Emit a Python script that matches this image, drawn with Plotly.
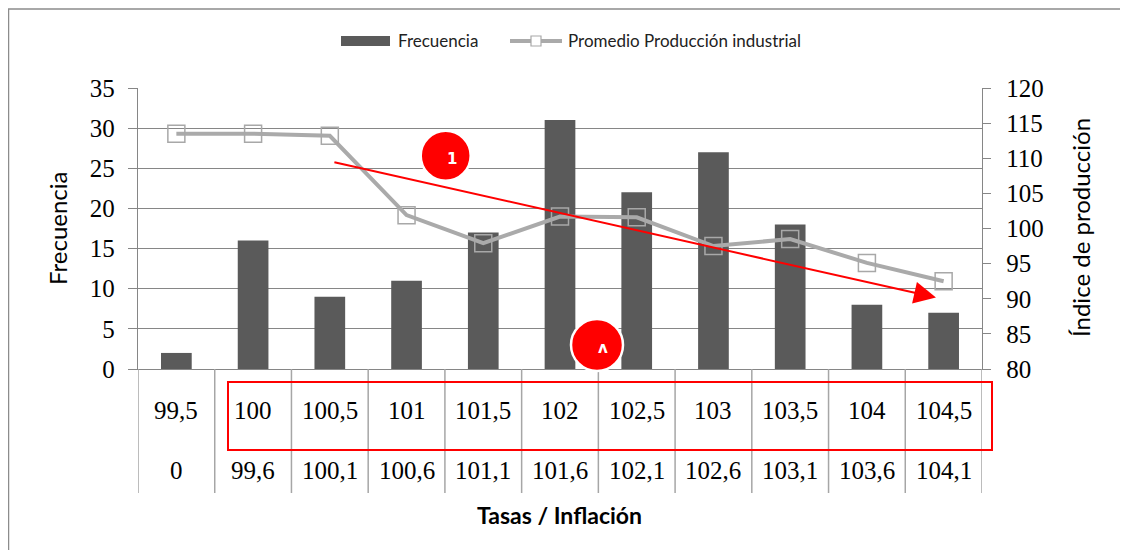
import plotly.graph_objects as go

# class marks (upper row) and lower limits (lower row) of the table under the chart
categories = ["99,5", "100", "100,5", "101", "101,5", "102", "102,5", "103", "103,5", "104", "104,5"]
lower_limits = ["0", "99,6", "100,1", "100,6", "101,1", "101,6", "102,1", "102,6", "103,1", "103,6", "104,1"]
frequency = [2, 16, 9, 11, 17, 31, 22, 27, 18, 8, 7]
production = [113.5, 113.5, 113.2, 101.9, 97.9, 101.7, 101.6, 97.5, 98.5, 95.1, 92.5]

# the page body has an 8px margin, so the figure is a bit smaller than the window
OFF = 8
W, H = 1128 - OFF, 558 - 2 * OFF
# plot area in screen pixels
X0, X1, Y0, Y1 = 138, 982, 88, 369
L, R, T, B = X0 - OFF, W - (X1 - OFF), Y0 - OFF, H - (Y1 - OFF)

NUM_FONT = "Liberation Serif"
TXT_FONT = "Lato, Open Sans, sans-serif"
GRID = "#868686"
TABLE_LINE = "#a6a6a6"
BAR = "#5a5a5a"
LINE = "#aaaaaa"
RED = "#ff0000"


def px(x):
    # screen x -> paper x
    return (x - X0) / (X1 - X0)


def py(y):
    # screen y -> paper y
    return (Y1 - y) / (Y1 - Y0)


def label(x, y, text, xref="paper", **kw):
    kw.setdefault("xanchor", "center")
    fig.add_annotation(x=x, y=y, xref=xref, yref="paper", text=text, showarrow=False,
                       yanchor="middle", **kw)


fig = go.Figure()
fig.add_trace(go.Bar(
    x=categories, y=frequency, name="Frecuencia",
    marker=dict(color=BAR, line=dict(width=0)), width=0.4,
))
fig.add_trace(go.Scatter(
    x=categories, y=production, name="Promedio Producción industrial",
    yaxis="y2", mode="lines+markers",
    line=dict(color=LINE, width=4),
    marker=dict(symbol="square-open", size=17, color="#a8a8a8", line=dict(width=1.5)),
))

fig.update_layout(
    width=W, height=H,
    margin=dict(l=L, r=R, t=T, b=B, pad=0),
    paper_bgcolor="white", plot_bgcolor="white",
    font=dict(family=TXT_FONT, color="black"),
    showlegend=False,
    xaxis=dict(
        type="category", range=[-0.5, len(categories) - 0.5],
        showticklabels=False, ticks="", showgrid=False,
        showline=True, linecolor=GRID, linewidth=1.3,
    ),
    yaxis=dict(
        range=[0, 35], dtick=5, showgrid=True, gridcolor=GRID, gridwidth=1.3,
        ticks="outside", ticklen=9, tickcolor=GRID, ticklabelstandoff=8,
        showline=True, linecolor=GRID, linewidth=1.3, zeroline=False,
        tickfont=dict(family=NUM_FONT, size=25, color="black"),
    ),
    yaxis2=dict(
        range=[80, 120], dtick=5, overlaying="y", side="right", showgrid=False,
        ticks="outside", ticklen=8, tickcolor=GRID, ticklabelstandoff=10,
        showline=True, linecolor=GRID, linewidth=1.3, zeroline=False,
        tickfont=dict(family=NUM_FONT, size=25, color="black"),
    ),
)

# legend, drawn by hand to get the wide Excel-style swatches
fig.add_shape(type="rect", xref="paper", yref="paper", x0=px(341), x1=px(390), y0=py(46), y1=py(36),
              fillcolor=BAR, line=dict(width=0))
label(px(396), py(41), "Frecuencia", xanchor="left", font=dict(size=17, color="#222"))
fig.add_shape(type="line", xref="paper", yref="paper", x0=px(510), x1=px(562), y0=py(41), y1=py(41),
              line=dict(color=LINE, width=4))
fig.add_shape(type="rect", xref="paper", yref="paper", x0=px(531), x1=px(541), y0=py(46), y1=py(36),
              fillcolor="white", line=dict(color="#a8a8a8", width=1.2))
label(px(566), py(41), "Promedio Producción industrial", xanchor="left", font=dict(size=17, color="#222"))

# table under the x axis
for i, (top, bottom) in enumerate(zip(categories, lower_limits)):
    label(i, py(410), top, xref="x", font=dict(family=NUM_FONT, size=25, color="black"))
    label(i, py(470), bottom, xref="x", font=dict(family=NUM_FONT, size=25, color="black"))
for i in range(len(categories) + 1):
    fig.add_shape(type="line", xref="x", yref="paper", x0=i - 0.5, x1=i - 0.5,
                  y0=0, y1=py(493), line=dict(color=TABLE_LINE, width=1.5))

# highlighted rows
fig.add_shape(type="rect", xref="paper", yref="paper", x0=px(228), x1=px(992), y0=py(382), y1=py(450),
              line=dict(color=RED, width=2))

# axis titles
label(px(559), py(515), "<b>Tasas / Inflación</b>", font=dict(size=23, color="black"))
label(px(57), py(228), "Frecuencia", textangle=-90, font=dict(size=24, color="black"))
label(px(1080), py(228), "Índice de producción", textangle=-90, font=dict(size=24, color="black"))

# trend arrow
fig.add_annotation(x=9.9, y=8.9, xref="x", yref="y", ax=2.04, ay=25.8, axref="x", ayref="y",
                   text="", showarrow=True, arrowhead=2, arrowsize=2.2, arrowwidth=2,
                   arrowcolor=RED, standoff=0)

# numbered markers
for cx, cy, r, mark in [(445.7, 155.7, 25, "1"), (597, 345, 26, "ʌ")]:
    fig.add_shape(type="circle", xref="paper", yref="paper", xsizemode="pixel", ysizemode="pixel",
                  xanchor=px(cx), yanchor=py(cy), x0=-r, x1=r, y0=-r, y1=r,
                  fillcolor=RED, line=dict(color="white", width=2.5))
    label(px(cx + 6), py(cy + 3), f"<b>{mark}</b>", font=dict(family="DejaVu Sans", size=15, color="white"))

# chart frame (bottom edge lies below the window)
fig.add_shape(type="rect", xref="paper", yref="paper", x0=px(8.5), x1=px(1126), y0=py(600), y1=py(9),
              line=dict(color="#8c8c8c", width=1.5), layer="below")

fig.write_html("out.html")
